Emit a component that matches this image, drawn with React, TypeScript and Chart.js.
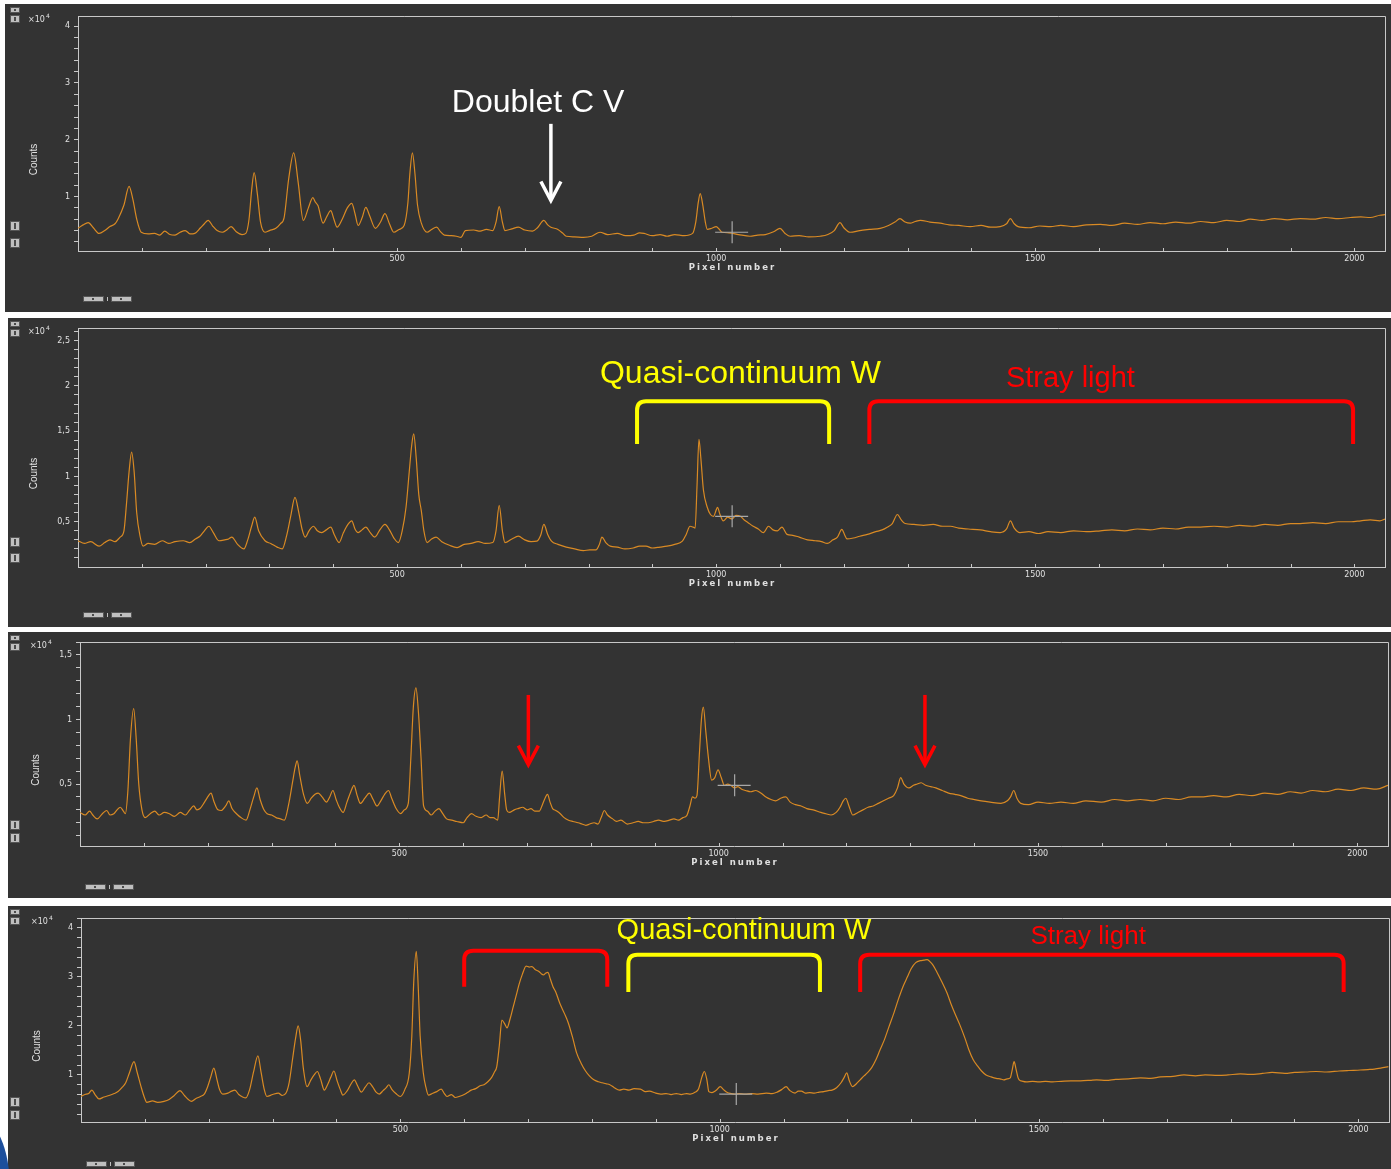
import React, { useEffect, useRef } from 'react';
import { Chart, registerables } from 'chart.js';

Chart.register(...registerables);

// ---------- data: [pixel number, counts (x10^4)] ----------
const SPECTRUM_1: [number, number][] = [
  [0,.44],[8,.50],[16,.54],[24,.45],[33,.35],[42,.40],[50,.47],[58,.52],[63,.61],[72,.85],[80,1.18],[86,.95],[92,.60],[99,.37],
  [110,.34],[120,.35],[128,.32],[136,.39],[144,.33],[152,.32],[160,.37],[168,.40],[176,.34],[183,.35],[192,.45],[198,.52],[204,.58],
  [211,.48],[218,.40],[226,.37],[234,.42],[240,.47],[248,.38],[257,.33],[263,.35],[268,.60],[272,1.10],[276,1.42],[281,1.05],[286,.55],
  [293,.37],[300,.40],[310,.44],[317,.52],[323,.63],[330,1.30],[338,1.77],[345,1.25],[353,.58],[361,.80],[368,.98],[372,.90],[376,.84],
  [384,.53],[390,.65],[396,.75],[401,.60],[406,.46],[414,.60],[422,.80],[429,.88],[434,.70],[439,.49],[445,.62],[451,.81],[457,.66],
  [466,.44],[474,.55],[481,.70],[488,.52],[495,.37],[503,.42],[511,.49],[517,.90],[520,1.40],[524,1.77],[528,1.40],[532,.85],[538,.53],
  [547,.37],[554,.42],[562,.46],[568,.38],[574,.32],[585,.31],[593,.30],[600,.28],[607,.40],[620,.41],[630,.39],[640,.42],[650,.40],
  [655,.55],[660,.82],[665,.55],[669,.40],[680,.43],[690,.46],[700,.41],[712,.39],[720,.45],[730,.58],[736,.50],[741,.46],[752,.42],
  [760,.35],[765,.30],[778,.29],[792,.28],[805,.30],[818,.37],[830,.33],[845,.35],[858,.31],[871,.32],[880,.36],[887,.35],[900,.31],
  [912,.33],[923,.30],[935,.33],[950,.31],[963,.35],[968,.55],[972,.90],[975,1.05],[979,.85],[983,.55],[986,.42],[993,.44],[1000,.47],
  [1005,.42],[1009,.37],[1020,.36],[1035,.33],[1053,.30],[1065,.32],[1077,.33],[1090,.38],[1100,.44],[1108,.35],[1116,.30],[1130,.31],
  [1145,.29],[1163,.30],[1175,.33],[1185,.40],[1194,.54],[1200,.45],[1210,.37],[1225,.40],[1240,.42],[1257,.44],[1270,.49],[1280,.55],
  [1288,.61],[1296,.55],[1304,.53],[1312,.56],[1320,.58],[1335,.55],[1351,.53],[1365,.50],[1380,.49],[1398,.47],[1415,.49],[1430,.46],
  [1445,.47],[1455,.52],[1461,.61],[1467,.52],[1473,.47],[1490,.45],[1507,.48],[1524,.47],[1540,.49],[1560,.47],[1580,.50],[1602,.51],
  [1620,.49],[1640,.53],[1660,.51],[1680,.54],[1700,.52],[1720,.55],[1740,.53],[1759,.56],[1780,.54],[1800,.58],[1820,.56],[1837,.60],
  [1855,.58],[1875,.61],[1895,.59],[1915,.61],[1935,.60],[1955,.63],[1975,.61],[1994,.63],[2010,.64],[2025,.63],[2040,.67],[2048,.68],
];

const SPECTRUM_2: [number, number][] = [
  [0,.29],[10,.26],[20,.28],[33,.23],[42,.27],[50,.30],[58,.28],[66,.33],[72,.40],[76,.70],[80,1.05],[84,1.27],[88,1.05],[92,.60],
  [97,.35],[102,.23],[110,.26],[120,.25],[132,.29],[142,.26],[152,.28],[165,.29],[175,.27],[184,.31],[191,.34],[198,.40],[205,.45],
  [212,.38],[221,.29],[230,.30],[236,.31],[241,.33],[250,.25],[260,.20],[266,.30],[272,.45],[277,.55],[283,.40],[293,.29],[302,.26],
  [312,.22],[320,.20],[327,.35],[333,.55],[340,.77],[346,.60],[351,.42],[356,.33],[362,.40],[369,.45],[375,.40],[382,.38],[389,.41],
  [396,.44],[402,.35],[409,.27],[416,.38],[423,.47],[429,.51],[434,.42],[439,.38],[445,.41],[451,.44],[458,.38],[465,.33],[473,.41],
  [481,.47],[488,.41],[495,.32],[502,.27],[508,.40],[514,.66],[519,1.05],[523,1.35],[526,1.47],[530,1.20],[534,.80],[538,.62],[542,.40],
  [547,.27],[554,.31],[561,.33],[570,.28],[582,.24],[594,.215],[605,.25],[616,.26],[627,.28],[638,.26],[650,.27],[655,.40],[660,.68],
  [665,.40],[669,.27],[680,.31],[690,.34],[700,.30],[710,.28],[719,.285],[725,.35],[730,.47],[736,.36],[742,.285],[752,.25],[765,.22],
  [778,.20],[792,.18],[802,.19],[812,.19],[817,.25],[821,.33],[827,.27],[834,.23],[845,.22],[857,.20],[870,.21],[880,.23],[890,.23],
  [900,.21],[912,.22],[923,.23],[935,.25],[947,.285],[953,.36],[959,.45],[964,.44],[967,.43],[970,.90],[973,1.41],[976,1.20],[980,.85],
  [986,.66],[991,.58],[996,.56],[1000,.63],[1002,.66],[1006,.58],[1011,.51],[1018,.55],[1025,.53],[1031,.57],[1038,.56],[1044,.52],
  [1050,.49],[1058,.45],[1066,.42],[1074,.38],[1082,.45],[1089,.41],[1096,.40],[1103,.44],[1111,.36],[1120,.35],[1130,.33],[1143,.30],
  [1155,.29],[1165,.28],[1174,.26],[1183,.30],[1190,.33],[1197,.415],[1201,.36],[1205,.31],[1215,.32],[1225,.34],[1237,.36],[1250,.39],
  [1260,.41],[1268,.44],[1276,.48],[1284,.58],[1290,.52],[1296,.48],[1310,.47],[1325,.46],[1340,.47],[1355,.45],[1367,.45],[1380,.43],
  [1395,.42],[1414,.41],[1430,.39],[1445,.38],[1455,.42],[1461,.51],[1467,.43],[1476,.38],[1490,.39],[1505,.37],[1520,.39],[1540,.38],
  [1560,.40],[1580,.39],[1602,.40],[1620,.41],[1640,.40],[1660,.42],[1680,.41],[1700,.43],[1720,.42],[1740,.44],[1759,.44],[1780,.45],
  [1800,.44],[1820,.46],[1840,.45],[1860,.47],[1880,.46],[1900,.48],[1915,.48],[1935,.49],[1955,.48],[1975,.50],[1995,.50],[2010,.51],
  [2025,.52],[2040,.51],[2048,.53],
];

const SPECTRUM_3: [number, number][] = [
  [0,.28],[8,.26],[15,.29],[20,.26],[27,.23],[35,.27],[42,.295],[47,.26],[53,.27],[58,.30],[63,.32],[68,.29],[71,.27],[75,.45],[79,.85],
  [84,1.085],[88,.85],[92,.50],[97,.30],[102,.24],[110,.27],[117,.29],[124,.26],[132,.28],[140,.27],[148,.25],[157,.28],[165,.26],
  [172,.30],[178,.33],[183,.30],[188,.31],[195,.36],[200,.40],[205,.43],[210,.36],[216,.30],[221,.295],[228,.33],[233,.37],[238,.31],
  [245,.27],[252,.24],[260,.22],[266,.30],[272,.40],[277,.47],[282,.38],[288,.30],[293,.27],[300,.26],[307,.24],[314,.23],[320,.22],
  [327,.35],[333,.52],[337,.63],[340,.68],[344,.57],[350,.42],[356,.35],[362,.39],[368,.42],[373,.43],[379,.40],[386,.36],[391,.40],
  [396,.45],[401,.38],[406,.32],[412,.28],[418,.36],[424,.44],[429,.49],[434,.41],[439,.35],[446,.39],[453,.43],[459,.38],[465,.33],
  [471,.37],[477,.42],[483,.45],[488,.39],[495,.31],[502,.27],[508,.30],[514,.35],[518,.70],[522,1.10],[526,1.245],[530,1.05],[534,.70],
  [538,.33],[544,.29],[550,.26],[556,.29],[562,.31],[568,.27],[574,.23],[582,.22],[590,.21],[600,.20],[606,.24],[613,.27],[620,.25],
  [628,.24],[636,.26],[642,.24],[647,.24],[654,.22],[657,.40],[661,.60],[665,.42],[668,.30],[672,.28],[680,.30],[686,.31],[693,.32],
  [700,.30],[706,.31],[712,.29],[719,.29],[724,.34],[729,.40],[732,.42],[736,.36],[740,.31],[745,.295],[752,.27],[758,.24],[765,.22],
  [772,.21],[780,.20],[786,.19],[792,.18],[798,.19],[805,.20],[811,.19],[816,.24],[821,.295],[826,.26],[834,.23],[840,.21],[847,.22],
  [857,.19],[866,.20],[874,.21],[882,.20],[890,.20],[898,.21],[906,.22],[915,.21],[923,.22],[930,.23],[937,.22],[944,.24],[950,.255],
  [955,.33],[959,.40],[963,.39],[966,.41],[970,.75],[973,1.00],[976,1.095],[980,.90],[984,.70],[989,.53],[994,.55],[999,.61],[1004,.55],
  [1009,.49],[1014,.50],[1019,.49],[1025,.47],[1030,.48],[1036,.46],[1042,.45],[1050,.44],[1058,.45],[1066,.43],[1074,.40],[1082,.38],
  [1089,.37],[1097,.39],[1105,.40],[1112,.36],[1120,.34],[1129,.33],[1138,.31],[1148,.30],[1160,.28],[1168,.27],[1176,.26],[1184,.28],
  [1190,.32],[1195,.37],[1199,.39],[1204,.33],[1210,.26],[1218,.28],[1226,.30],[1234,.32],[1242,.33],[1250,.35],[1258,.37],[1266,.39],
  [1274,.41],[1280,.47],[1285,.55],[1290,.50],[1298,.47],[1305,.49],[1311,.50],[1317,.51],[1324,.49],[1332,.48],[1340,.47],[1350,.45],
  [1360,.43],[1370,.42],[1379,.41],[1390,.39],[1400,.38],[1411,.37],[1425,.36],[1442,.35],[1452,.37],[1457,.40],[1462,.45],[1467,.39],
  [1473,.35],[1485,.34],[1500,.36],[1518,.35],[1536,.36],[1555,.35],[1575,.37],[1599,.36],[1620,.38],[1640,.37],[1660,.38],[1680,.37],
  [1700,.39],[1720,.38],[1740,.40],[1755,.40],[1775,.41],[1795,.40],[1815,.42],[1835,.41],[1855,.43],[1875,.42],[1895,.44],[1912,.43],
  [1930,.45],[1950,.44],[1970,.46],[1990,.45],[2010,.47],[2030,.46],[2048,.49],
];

const SPECTRUM_4: [number, number][] = [
  [0,.56],[6,.60],[12,.62],[17,.69],[22,.60],[28,.51],[36,.55],[44,.58],[52,.62],[58,.66],[64,.74],[70,.84],[76,1.05],[83,1.27],
  [88,1.05],[94,.76],[99,.55],[103,.44],[112,.47],[120,.44],[130,.46],[138,.50],[146,.58],[155,.68],[162,.58],[168,.50],[173,.46],
  [180,.52],[187,.56],[193,.61],[198,.75],[203,.95],[208,1.14],[213,.90],[217,.70],[222,.61],[230,.63],[236,.67],[241,.69],[247,.60],
  [253,.55],[258,.53],[264,.70],[270,1.05],[277,1.39],[282,1.05],[287,.70],[291,.56],[300,.60],[309,.63],[315,.58],[321,.63],[326,.85],
  [331,1.30],[336,1.75],[340,2.00],[344,1.70],[348,1.15],[354,.76],[360,.90],[365,1.00],[370,1.07],[375,.92],[381,.69],[386,.80],
  [391,.95],[396,1.08],[401,.88],[406,.70],[410,.59],[417,.68],[423,.82],[428,.90],[433,.78],[439,.65],[445,.75],[451,.84],[457,.75],
  [462,.65],[467,.61],[473,.68],[478,.74],[482,.80],[487,.70],[493,.62],[500,.56],[507,.70],[514,1.04],[518,1.80],[521,2.90],[525,3.52],
  [528,2.80],[531,1.80],[536,1.04],[540,.75],[544,.59],[550,.62],[557,.66],[564,.71],[569,.62],[573,.56],[580,.60],[586,.54],[592,.56],
  [600,.60],[605,.64],[611,.69],[618,.72],[625,.78],[631,.80],[637,.86],[643,.95],[647,1.05],[651,1.17],[655,1.60],[659,2.12],[663,2.05],
  [667,1.96],[672,2.15],[676,2.35],[681,2.60],[686,2.85],[691,3.05],[697,3.22],[702,3.20],[706,3.21],[711,3.15],[717,3.11],[721,3.06],
  [724,3.04],[728,3.08],[731,3.09],[735,2.95],[739,2.80],[743,2.70],[750,2.45],[757,2.25],[763,2.06],[770,1.75],[776,1.45],[783,1.24],
  [790,1.08],[796,.98],[803,.90],[810,.86],[816,.84],[822,.82],[828,.80],[835,.74],[843,.69],[850,.71],[858,.69],[866,.72],[876,.71],
  [883,.66],[890,.67],[900,.63],[908,.61],[916,.62],[924,.60],[932,.62],[940,.60],[948,.62],[954,.61],[962,.65],[967,.72],[972,.95],
  [976,1.07],[980,.90],[983,.66],[988,.64],[994,.68],[1001,.76],[1006,.70],[1012,.64],[1018,.62],[1024,.61],[1030,.62],[1040,.61],
  [1050,.62],[1060,.61],[1073,.63],[1082,.62],[1090,.65],[1097,.70],[1104,.76],[1110,.68],[1118,.63],[1123,.67],[1128,.67],[1134,.63],
  [1141,.64],[1148,.63],[1156,.65],[1163,.66],[1170,.68],[1176,.69],[1183,.74],[1190,.84],[1195,.95],[1199,1.04],[1203,.88],[1208,.76],
  [1214,.82],[1220,.90],[1226,.98],[1231,1.04],[1238,1.15],[1245,1.32],[1251,1.51],[1258,1.72],[1265,1.98],[1273,2.27],[1280,2.55],
  [1287,2.80],[1294,3.00],[1300,3.17],[1307,3.29],[1314,3.33],[1320,3.34],[1325,3.35],[1330,3.30],[1334,3.24],[1340,3.10],[1347,2.92],
  [1356,2.67],[1363,2.42],[1370,2.20],[1377,1.99],[1384,1.75],[1390,1.52],[1397,1.31],[1404,1.18],[1410,1.08],[1417,1.00],[1425,.96],
  [1433,.93],[1439,.92],[1445,.90],[1450,.92],[1455,.94],[1458,1.10],[1461,1.27],[1464,1.12],[1467,.95],[1469,.90],[1475,.87],[1480,.86],
  [1490,.87],[1500,.86],[1510,.87],[1521,.86],[1535,.87],[1550,.88],[1565,.88],[1580,.89],[1590,.90],[1605,.89],[1620,.91],[1640,.92],
  [1659,.94],[1675,.93],[1690,.96],[1710,.97],[1727,1.00],[1745,.98],[1760,1.00],[1780,.99],[1796,1.00],[1815,1.02],[1830,1.01],
  [1850,1.03],[1865,1.05],[1885,1.03],[1900,1.05],[1918,1.06],[1934,1.07],[1950,1.06],[1970,1.08],[1985,1.09],[2003,1.10],[2015,1.11],
  [2025,1.12],[2035,1.14],[2047,1.17],
];

// ---------- axes / tick labels ----------
const X_MAX = 2048;
const X_TICK_STEP = 100;
const X_LABELS = [500, 1000, 1500, 2000];
const Y_LABELS_1 = [1, 2, 3, 4];
const Y_LABELS_2 = [0.5, 1, 1.5, 2, 2.5];
const Y_LABELS_3 = [0.5, 1, 1.5];
const Y_LABELS_4 = [1, 2, 3, 4];

// cursor cross position [pixel number, counts]
const CURSOR_1: [number, number] = [1025, 0.37];
const CURSOR_2: [number, number] = [1025, 0.56];
const CURSOR_3: [number, number] = [1025, 0.49];
const CURSOR_4: [number, number] = [1026, 0.61];

const WHITE = '#ffffff';
const YELLOW = '#ffff00';
const RED = '#ff0000';

type Note =
  | { type: 'text'; text: string; x: number; y: number; color: string; size: number }
  | { type: 'arrow'; x: number; y0: number; y1: number; color: string }
  | { type: 'bracket'; x0: number; x1: number; yTop: number; yBot: number; color: string };

const NOTES_1: Note[] = [
  { type: 'text', text: 'Doublet C V', x: 721, y: 2.65, color: WHITE, size: 32 },
  { type: 'arrow', x: 741, y0: 2.28, y1: 0.93, color: WHITE },
];
const NOTES_2: Note[] = [
  { type: 'text', text: 'Quasi-continuum W', x: 1038, y: 2.13, color: YELLOW, size: 32 },
  { type: 'bracket', x0: 876, x1: 1177, yTop: 1.83, yBot: 1.36, color: YELLOW },
  { type: 'text', text: 'Stray light', x: 1555, y: 2.08, color: RED, size: 29 },
  { type: 'bracket', x0: 1240, x1: 1998, yTop: 1.83, yBot: 1.36, color: RED },
];
const NOTES_3: Note[] = [
  { type: 'arrow', x: 702, y0: 1.19, y1: 0.65, color: RED },
  { type: 'arrow', x: 1323, y0: 1.19, y1: 0.65, color: RED },
];
const NOTES_4: Note[] = [
  { type: 'bracket', x0: 600, x1: 824, yTop: 3.53, yBot: 2.80, color: RED },
  { type: 'bracket', x0: 857, x1: 1157, yTop: 3.45, yBot: 2.69, color: YELLOW },
  { type: 'bracket', x0: 1220, x1: 1977, yTop: 3.45, yBot: 2.69, color: RED },
  { type: 'text', text: 'Quasi-continuum W', x: 1038, y: 3.94, color: YELLOW, size: 29 },
  { type: 'text', text: 'Stray light', x: 1577, y: 3.82, color: RED, size: 26 },
];

// ---------- styles ----------
const PANEL_BG = '#333333';
const AXIS_COLOR = '#c8c8c8';
const TEXT_COLOR = '#e0e0e0';
const LINE_COLOR = '#d98a24';
const TICK_FONT = '"DejaVu Sans", sans-serif';
const NOTE_FONT = '"Liberation Sans", Arial, sans-serif';

type PanelCfg = {
  key: string;
  left: number; top: number; width: number; height: number;
  pad: { l: number; t: number; r: number; b: number };
  data: [number, number][];
  yMin: number; yMax: number; yStep: number; yLabels: number[];
  cursor: [number, number];
  notes: Note[];
  sideIcons: [number, number];
  bottomIconY: number;
};

const PANELS: PanelCfg[] = [
  { key: 'p1', left: 5, top: 4, width: 1386, height: 308, pad: { l: 73, t: 12, r: 6, b: 61 }, data: SPECTRUM_1,
    yMin: 0.04, yMax: 4.18, yStep: 0.2, yLabels: Y_LABELS_1, cursor: CURSOR_1, notes: NOTES_1, sideIcons: [30, 13], bottomIconY: 16 },
  { key: 'p2', left: 8, top: 318, width: 1383, height: 309, pad: { l: 70, t: 10, r: 6, b: 60 }, data: SPECTRUM_2,
    yMin: 0.0, yMax: 2.64, yStep: 0.1, yLabels: Y_LABELS_2, cursor: CURSOR_2, notes: NOTES_2, sideIcons: [30, 14], bottomIconY: 15 },
  { key: 'p3', left: 8, top: 632, width: 1383, height: 266, pad: { l: 72, t: 10, r: 3, b: 52 }, data: SPECTRUM_3,
    yMin: 0.02, yMax: 1.6, yStep: 0.1, yLabels: Y_LABELS_3, cursor: CURSOR_3, notes: NOTES_3, sideIcons: [26, 13], bottomIconY: 14 },
  { key: 'p4', left: 8, top: 906, width: 1383, height: 263, pad: { l: 73, t: 12, r: 2, b: 47 }, data: SPECTRUM_4,
    yMin: 0.04, yMax: 4.2, yStep: 0.2, yLabels: Y_LABELS_4, cursor: CURSOR_4, notes: NOTES_4, sideIcons: [25, 12], bottomIconY: 8 },
];

const fmt = (v: number) => String(v).replace('.', ',');

function drawIconBox(ctx: CanvasRenderingContext2D, x: number, y: number, w: number, h: number) {
  ctx.fillStyle = '#bfbfbf';
  ctx.fillRect(x, y, w, h);
  ctx.strokeStyle = '#555555';
  ctx.lineWidth = 1;
  ctx.strokeRect(x + 0.5, y + 0.5, w - 1, h - 1);
  ctx.fillStyle = '#4a4a4a';
  ctx.fillRect(x + Math.floor(w / 2) - 1, y + 2, 2, h - 4);
}

function makeDecor(cfg: PanelCfg) {
  return {
    id: 'decor_' + cfg.key,
    afterDraw(chart: any) {
      const { ctx, chartArea: a, scales } = chart;
      const xs = scales.x;
      const ys = scales.y;
      ctx.save();

      // frame: top & right
      ctx.strokeStyle = AXIS_COLOR;
      ctx.lineWidth = 1;
      ctx.beginPath();
      ctx.moveTo(a.left, Math.round(a.top) + 0.5);
      ctx.lineTo(Math.round(a.right) + 0.5, Math.round(a.top) + 0.5);
      ctx.lineTo(Math.round(a.right) + 0.5, a.bottom);
      ctx.stroke();

      // inward x tick marks
      ctx.beginPath();
      xs.ticks.forEach((t: any) => {
        const px = Math.round(xs.getPixelForValue(t.value)) + 0.5;
        ctx.moveTo(px, a.bottom);
        ctx.lineTo(px, a.bottom - 3);
      });
      ctx.stroke();

      // axis titles
      ctx.fillStyle = TEXT_COLOR;
      ctx.save();
      ctx.translate(a.left - 44, (a.top + a.bottom) / 2 + 26);
      ctx.rotate(-Math.PI / 2);
      ctx.font = '10px "Liberation Sans", Arial, sans-serif';
      ctx.textAlign = 'center';
      ctx.textBaseline = 'middle';
      ctx.fillText('Counts', 0, 0);
      ctx.restore();

      ctx.save();
      (ctx as any).letterSpacing = '2px';
      ctx.font = 'bold 8.5px ' + TICK_FONT;
      ctx.textAlign = 'center';
      ctx.textBaseline = 'middle';
      ctx.fillText('Pixel number', (a.left + a.right) / 2 + 1, a.bottom + 17);
      ctx.restore();

      // x10^4 multiplier
      ctx.fillStyle = TEXT_COLOR;
      ctx.font = '8px ' + TICK_FONT;
      ctx.textAlign = 'left';
      ctx.textBaseline = 'alphabetic';
      const mx = a.left - 50;
      const my = a.top + 6;
      ctx.fillText('\u00d710', mx, my);
      const w = ctx.measureText('\u00d710').width;
      ctx.font = '6px ' + TICK_FONT;
      ctx.fillText('4', mx + w + 1, my - 4);

      // toolbar icons
      const ix = 10 - cfg.left;
      drawIconBox(ctx, ix, 3, 10, 6);
      drawIconBox(ctx, ix, 11, 10, 8);
      drawIconBox(ctx, ix, a.bottom - cfg.sideIcons[0], 10, 10);
      drawIconBox(ctx, ix, a.bottom - cfg.sideIcons[1], 10, 10);
      const by = cfg.height - cfg.bottomIconY;
      drawIconBox(ctx, a.left + 5, by, 21, 6);
      drawIconBox(ctx, a.left + 33, by, 21, 6);
      ctx.fillStyle = '#bfbfbf';
      ctx.fillRect(a.left + 29, by + 1, 1, 4);

      // cursor cross
      const cx = xs.getPixelForValue(cfg.cursor[0]);
      const cy = ys.getPixelForValue(cfg.cursor[1]);
      ctx.strokeStyle = '#a8a8a8';
      ctx.lineWidth = 1.2;
      ctx.beginPath();
      ctx.moveTo(cx, cy - 11);
      ctx.lineTo(cx, cy + 11);
      ctx.moveTo(cx - 17, cy);
      ctx.lineTo(cx + 16, cy);
      ctx.stroke();

      // annotations
      cfg.notes.forEach((n) => {
        if (n.type === 'text') {
          ctx.fillStyle = n.color;
          ctx.font = `${n.size}px ${NOTE_FONT}`;
          ctx.textAlign = 'center';
          ctx.textBaseline = 'middle';
          ctx.fillText(n.text, xs.getPixelForValue(n.x), ys.getPixelForValue(n.y));
        } else if (n.type === 'arrow') {
          const px = xs.getPixelForValue(n.x);
          const p0 = ys.getPixelForValue(n.y0);
          const p1 = ys.getPixelForValue(n.y1);
          ctx.strokeStyle = n.color;
          ctx.lineWidth = 3.5;
          ctx.lineCap = 'butt';
          ctx.lineJoin = 'miter';
          ctx.beginPath();
          ctx.moveTo(px, p0);
          ctx.lineTo(px, p1 - 2);
          ctx.stroke();
          ctx.beginPath();
          ctx.moveTo(px - 10, p1 - 19);
          ctx.lineTo(px, p1);
          ctx.lineTo(px + 10, p1 - 19);
          ctx.stroke();
        } else {
          const x0 = xs.getPixelForValue(n.x0);
          const x1 = xs.getPixelForValue(n.x1);
          const yt = ys.getPixelForValue(n.yTop);
          const yb = ys.getPixelForValue(n.yBot);
          const r = 9;
          ctx.strokeStyle = n.color;
          ctx.lineWidth = 4;
          ctx.lineJoin = 'round';
          ctx.beginPath();
          ctx.moveTo(x0, yb);
          ctx.lineTo(x0, yt + r);
          ctx.quadraticCurveTo(x0, yt, x0 + r, yt);
          ctx.lineTo(x1 - r, yt);
          ctx.quadraticCurveTo(x1, yt, x1, yt + r);
          ctx.lineTo(x1, yb);
          ctx.stroke();
        }
      });

      ctx.restore();
    },
  };
}

function Panel({ cfg }: { cfg: PanelCfg }) {
  const ref = useRef<HTMLCanvasElement>(null);

  useEffect(() => {
    const canvas = ref.current;
    if (!canvas) return;
    const xTicks: number[] = [];
    for (let v = X_TICK_STEP; v <= X_MAX; v += X_TICK_STEP) xTicks.push(v);
    const yTicks: number[] = [];
    for (let i = Math.floor(cfg.yMin / cfg.yStep + 1e-9) + 1; i * cfg.yStep <= cfg.yMax + 1e-9; i++) {
      yTicks.push(Math.round(i * cfg.yStep * 1000) / 1000);
    }
    const isLabel = (v: number) => cfg.yLabels.some((l) => Math.abs(l - v) < 1e-6);

    const chart = new Chart(canvas, {
      type: 'line',
      data: {
        datasets: [
          {
            data: cfg.data.map(([x, y]) => ({ x, y })),
            borderColor: LINE_COLOR,
            borderWidth: 1.2,
            pointRadius: 0,
            cubicInterpolationMode: 'monotone',
            fill: false,
          },
        ],
      },
      options: {
        animation: false,
        responsive: false,
        events: [],
        layout: { padding: { left: 0, top: cfg.pad.t, right: cfg.pad.r, bottom: 0 } },
        plugins: { legend: { display: false }, tooltip: { enabled: false } },
        scales: {
          x: {
            type: 'linear',
            min: 0,
            max: X_MAX,
            afterFit: (s: any) => { s.height = cfg.pad.b; },
            afterBuildTicks: (s: any) => { s.ticks = xTicks.map((value) => ({ value })); },
            grid: { display: false, drawTicks: false, tickLength: 0 },
            border: { display: true, color: AXIS_COLOR, width: 1 },
            ticks: {
              autoSkip: false,
              maxRotation: 0,
              padding: 3,
              color: TEXT_COLOR,
              font: { family: TICK_FONT, size: 8 },
              callback: (v: any) => (X_LABELS.includes(Number(v)) ? String(v) : ''),
            },
          },
          y: {
            type: 'linear',
            min: cfg.yMin,
            max: cfg.yMax,
            afterFit: (s: any) => { s.width = cfg.pad.l; },
            afterBuildTicks: (s: any) => { s.ticks = yTicks.map((value) => ({ value })); },
            grid: { display: true, drawOnChartArea: false, drawTicks: true, tickLength: 4, color: AXIS_COLOR },
            border: { display: true, color: AXIS_COLOR, width: 1 },
            ticks: {
              autoSkip: false,
              padding: 4,
              color: TEXT_COLOR,
              font: { family: TICK_FONT, size: 8 },
              callback: (v: any) => (isLabel(Number(v)) ? fmt(Number(v)) : ''),
            },
          },
        },
      },
      plugins: [makeDecor(cfg)],
    } as any);

    return () => chart.destroy();
  }, [cfg]);

  return (
    <div
      style={{
        position: 'absolute',
        left: cfg.left,
        top: cfg.top,
        width: cfg.width,
        height: cfg.height,
        background: PANEL_BG,
      }}
    >
      <canvas ref={ref} width={cfg.width} height={cfg.height} style={{ display: 'block', width: cfg.width, height: cfg.height }} />
    </div>
  );
}

export default function App() {
  return (
    <div
      style={{
        position: 'absolute',
        left: 0,
        top: 0,
        width: 1391,
        height: 1169,
        background: '#ffffff',
        overflow: 'hidden',
      }}
    >
      {PANELS.map((p) => (
        <Panel key={p.key} cfg={p} />
      ))}
      <div
        style={{
          position: 'absolute',
          left: -52,
          top: 1118,
          width: 62,
          height: 140,
          borderRadius: '50%',
          background: '#1d4f9c',
        }}
      />
    </div>
  );
}
